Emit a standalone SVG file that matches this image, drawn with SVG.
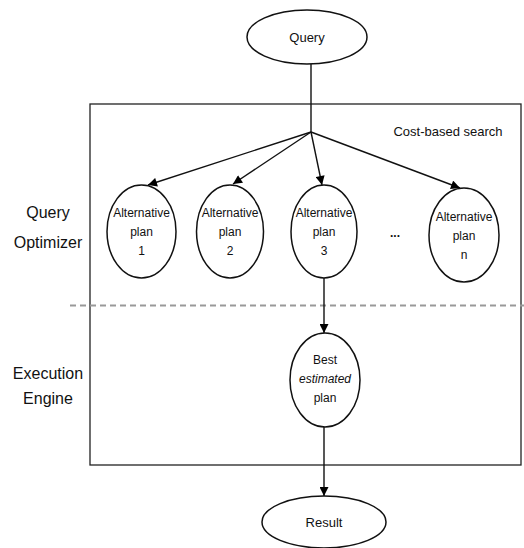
<svg xmlns="http://www.w3.org/2000/svg" width="524" height="548" viewBox="0 0 524 548">
<defs>
<marker id="ah" viewBox="0 0 10 10" refX="10" refY="5" markerWidth="10" markerHeight="9" markerUnits="userSpaceOnUse" orient="auto">
<path d="M0,0 L10,5 L0,10 z" fill="#000"/>
</marker>
<style>
.n{fill:#fff;stroke:#111;stroke-width:1.5}
.t{font-family:"Liberation Sans",Arial,sans-serif;font-size:12px;fill:#111;text-anchor:middle}
.b{font-size:13px}
.lbl{font-family:"Liberation Sans",Arial,sans-serif;font-size:16px;fill:#111;text-anchor:middle}
.c{stroke:#111;stroke-width:1.4;fill:none}
.ca{stroke:#111;stroke-width:1.4;fill:none;marker-end:url(#ah)}
</style>
</defs>
<rect width="524" height="548" fill="#fff"/>
<g id="frame">
<rect x="90" y="104" width="431" height="361" fill="none" stroke="#222" stroke-width="1.3"/>
<line x1="70" y1="305.5" x2="524" y2="305.5" stroke="#999" stroke-width="2" stroke-dasharray="6,4"/>
<text class="t b" x="448" y="136">Cost-based search</text>
<text class="lbl" x="48" y="218">Query</text>
<text class="lbl" x="48" y="248">Optimizer</text>
<text class="lbl" x="48" y="379">Execution</text>
<text class="lbl" x="48" y="404">Engine</text>
<text class="t" x="395" y="237" style="font-weight:bold">...</text>
</g>
<g id="connectors">
<line class="c" x1="311" y1="64" x2="311" y2="132"/>
<line class="ca" x1="311" y1="132" x2="148" y2="185"/>
<line class="ca" x1="311" y1="132" x2="233" y2="184"/>
<line class="ca" x1="311" y1="132" x2="322" y2="185"/>
<line class="ca" x1="311" y1="132" x2="460" y2="188"/>
<line class="ca" x1="324" y1="278" x2="324" y2="333"/>
<line class="ca" x1="324" y1="427" x2="324" y2="496"/>
</g>
<g id="query">
<ellipse class="n" cx="307" cy="37" rx="60" ry="27"/>
<text class="t b" x="307" y="42">Query</text>
</g>
<g id="plan1">
<ellipse class="n" cx="141.5" cy="231.5" rx="34.5" ry="46.5"/>
<text class="t" x="141.5" y="217">Alternative</text>
<text class="t" x="141.5" y="236">plan</text>
<text class="t" x="141.5" y="255">1</text>
</g>
<g id="plan2">
<ellipse class="n" cx="230" cy="231.5" rx="33.5" ry="46.5"/>
<text class="t" x="230" y="217">Alternative</text>
<text class="t" x="230" y="236">plan</text>
<text class="t" x="230" y="255">2</text>
</g>
<g id="plan3">
<ellipse class="n" cx="324" cy="231.5" rx="33" ry="46.5"/>
<text class="t" x="324" y="217">Alternative</text>
<text class="t" x="324" y="236">plan</text>
<text class="t" x="324" y="255">3</text>
</g>
<g id="plann">
<ellipse class="n" cx="464" cy="235" rx="35" ry="47"/>
<text class="t" x="464" y="221">Alternative</text>
<text class="t" x="464" y="240">plan</text>
<text class="t" x="464" y="259">n</text>
</g>
<g id="best">
<ellipse class="n" cx="325" cy="380" rx="35" ry="47"/>
<text class="t" x="325" y="364">Best</text>
<text class="t" x="325" y="383" font-style="italic">estimated</text>
<text class="t" x="325" y="402">plan</text>
</g>
<g id="result">
<ellipse class="n" cx="324" cy="522" rx="62" ry="26"/>
<text class="t b" x="324" y="527">Result</text>
</g>
</svg>
